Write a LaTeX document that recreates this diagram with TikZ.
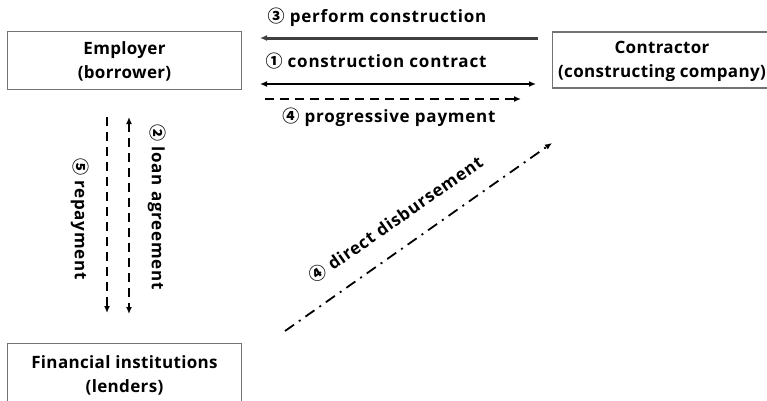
\documentclass[tikz,border=0pt]{standalone}
\usepackage{fontspec}
\setmainfont{Open Sans}
\newfontfamily\boxfont{Open Sans}[LetterSpace=2]
\newfontfamily\lblfont{Open Sans}[LetterSpace=4.5]
\newfontfamily\circfont{Noto Sans CJK KR}
\newcommand{\cnum}[1]{{\circfont\bfseries #1}}
\newcommand{\cnumlight}[1]{{\circfont #1}}
\usetikzlibrary{arrows.meta}
\begin{document}
\begin{tikzpicture}[x=1pt,y=-1pt,
  party/.style={draw=black!55, line width=1.1pt, fill=white, minimum height=58pt, inner sep=0pt},
  partytext/.style={align=center, font=\boxfont\bfseries\fontsize{17}{24}\selectfont, inner sep=0pt},
  lbl/.style={font=\lblfont\bfseries\fontsize{17}{20}\selectfont, inner sep=0pt},
  tip/.style={-{Latex[length=7pt,width=6pt]}},
  twotip/.style={{Latex[length=7pt,width=6pt]}-{Latex[length=7pt,width=6pt]}},
  flowdash/.style={line width=1.6pt, dash pattern=on 9pt off 6pt},
  flowdashdot/.style={line width=1.8pt, dash pattern=on 11pt off 6pt on 2pt off 6pt}]
\useasboundingbox (0,0) rectangle (767,400);
\clip (0,0) rectangle (767,400);

% parties
\node[party, minimum width=234pt] (employer) at (124.5,60.5) {};
\node[partytext] (employertext) at (124.5,61) {Employer\\(borrower)};
\node[party, minimum width=222pt, minimum height=56pt, anchor=west] (contractor) at (552,60) {};
\node[partytext] (contractortext) at (662,61) {Contractor\\(constructing company)};
\node[party, minimum width=234pt, minimum height=66pt, anchor=north] (lender) at (124.5,343) {};
\node[partytext] (lendertext) at (124.5,375) {Financial institutions\\(lenders)};

% anchor points of the connectors
\coordinate (pcA) at (538,38);  \coordinate (pcB) at (260,38);
\coordinate (ccA) at (260,84);  \coordinate (ccB) at (536,84);
\coordinate (ppA) at (265,99);  \coordinate (ppB) at (521,99);
\coordinate (rpA) at (107,117); \coordinate (rpB) at (107,313);
\coordinate (laA) at (129,117); \coordinate (laB) at (129,314);
\coordinate (ddA) at (285,331); \coordinate (ddB) at (552,143);

% employer <-> contractor
\draw[tip, line width=3pt, black!75] (pcA) -- (pcB);
\draw[twotip, line width=2pt] (ccA) -- (ccB);
\draw[tip, flowdash] (ppA) -- (ppB);
\node[lbl] (pclabel) at (377,17) {\cnum{③} perform construction};
\node[lbl] (cclabel) at (376,61) {\cnum{①} construction contract};
\node[lbl] (pplabel) at (389,117) {\cnum{④} progressive payment};

% employer <-> lenders
\draw[tip, flowdash] (rpA) -- (rpB);
\draw[twotip, flowdash] (laA) -- (laB);
\node[lbl, rotate=-90] (lalabel) at (157,207) {\cnum{②} loan agreement};
\node[lbl, rotate=-90] (rplabel) at (80,219) {\cnum{⑤} repayment};

% lenders -> contractor
\draw[tip, flowdashdot] (ddA) -- (ddB);
\node[lbl, rotate=35] (ddlabel) at (396,219) {\cnumlight{④} direct disbursement};
\end{tikzpicture}
\end{document}
